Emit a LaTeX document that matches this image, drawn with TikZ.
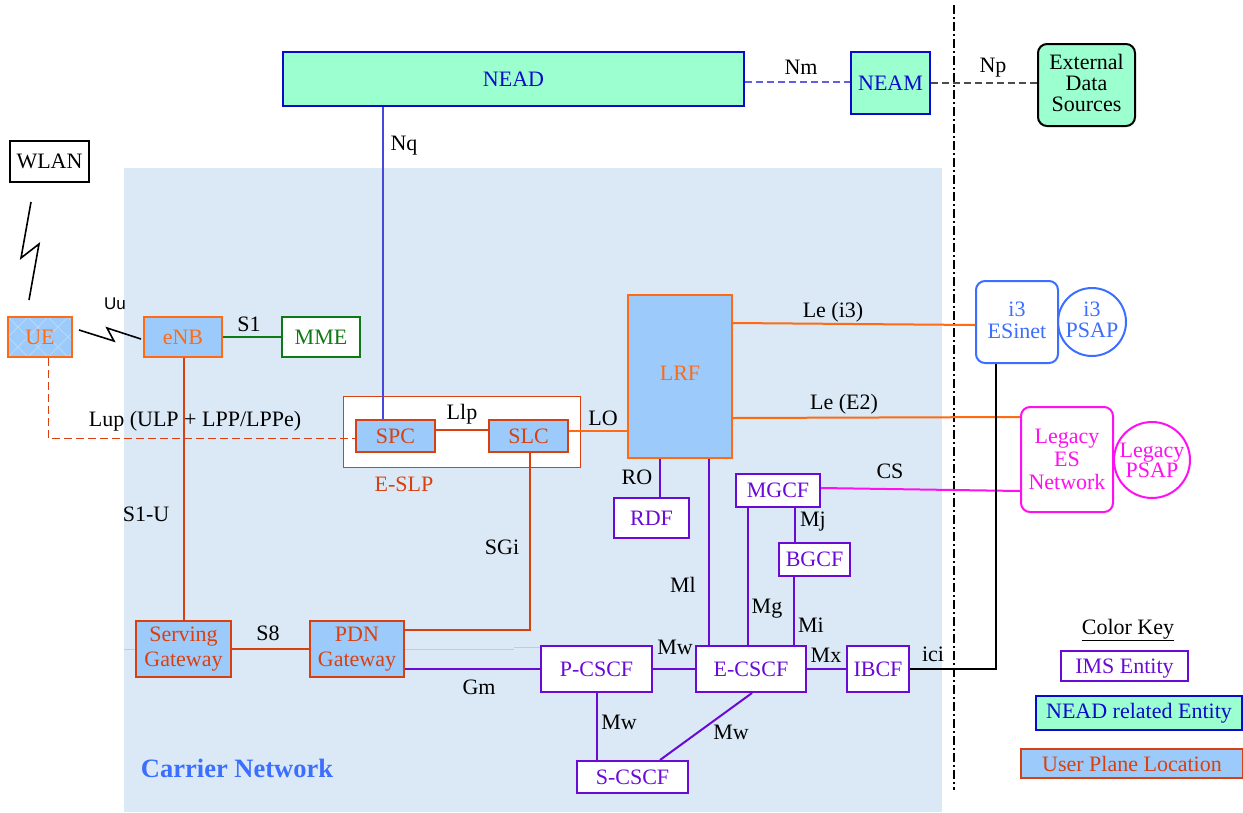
\documentclass[tikz,border=0pt]{standalone}
\usepackage{fontspec}
\setmainfont{Liberation Serif}
\newfontfamily\lsans{Liberation Sans}
\usepackage{tikz}
\definecolor{boxblue}{HTML}{9CCBFB}
\definecolor{aqua}{HTML}{9CFFCF}
\definecolor{orng}{HTML}{FF6A13}
\definecolor{rust}{HTML}{D8400F}
\definecolor{purp}{HTML}{6A0AD6}
\definecolor{grn}{HTML}{0E7A14}
\definecolor{nblue}{HTML}{0A0ACD}
\definecolor{iblue}{HTML}{3C6EFF}
\definecolor{mag}{HTML}{FF10F0}
\definecolor{carrier}{HTML}{DAE9F5}
\newcommand{\drp}[1]{\rule[-#1]{0pt}{#1}}
\tikzset{
  x=1pt,y=-1pt,
  every node/.style={font=\fontsize{22}{22}\selectfont,inner sep=0pt,align=center},
  lbl/.style={text=black,font=\fontsize{22}{22}\selectfont},
  box/.style={draw,line width=2pt,rectangle,anchor=center},
  sz/.style 2 args={minimum width=#1pt,minimum height=#2pt},
  orbox/.style={box,draw=orng,fill=boxblue,text=orng},
  rubox/.style={box,draw=rust,fill=boxblue,text=rust},
  pubox/.style={box,draw=purp,fill=white,text=purp},
  aqbox/.style={box,draw=nblue,fill=aqua,text=nblue},
  stk/.style={font=\fontsize{22}{#1}\selectfont},
  conn/.style={line width=2pt},
  lattice/.style={path picture={
    \foreach \k in {-80,-60,...,120}{
      \draw[white!25!boxblue,line width=1pt]
        ([xshift=\k pt]path picture bounding box.south west) -- ++(60,-60);
      \draw[white!25!boxblue,line width=1pt]
        ([xshift=\k pt]path picture bounding box.north west) -- ++(60,60);
    }}},
}
\begin{document}
\begin{tikzpicture}
\useasboundingbox (0,0) rectangle (1243,812);
\fill[white] (0,0) rectangle (1243,812);
\fill[carrier] (124,168) rectangle (942,812);
\draw[line width=1pt,color=carrier!88!black] (124,649) -- (514,649);
\draw[line width=1pt,color=carrier!88!black] (514,647) -- (541,647);
\draw[line width=1.6pt,dash pattern=on 9pt off 3pt on 2pt off 3pt] (954,5) -- (954,790);

% boxes
\node[box,draw=black,sz={79}{41}] (wlan) at (49.5,161.5) {WLAN};
\node[orbox,sz={64}{40},lattice] (ue) at (40,337) {UE};
\node[orbox,sz={78}{40}] (enb) at (183,337) {eNB};
\node[box,draw=grn,text=grn,fill=white,sz={78}{40}] (mme) at (321,337) {MME};
\node[aqbox,sz={461}{54}] (nead) at (513.5,79) {NEAD};
\node[aqbox,sz={79}{62}] (neam) at (890.5,83) {NEAM};
\node[box,draw=black,fill=aqua,text=black,rounded corners=9pt,stk=21,sz={97}{82}] (ext) at (1086.5,85) {External\\Data\\Sources\drp{4pt}};
\node[box,draw=rust,line width=1pt,fill=white,sz={237}{71}] (eslp) at (461.5,431.5) {};
\node[rubox,sz={79}{32}] (spc) at (395.5,436) {SPC};
\node[rubox,sz={79}{32}] (slc) at (528.5,436) {SLC};
\node[orbox,sz={104}{163}] (lrf) at (680,376.5) {LRF\drp{6pt}};
\node[pubox,sz={75}{40}] (rdf) at (651.5,518) {RDF};
\node[pubox,sz={84}{33}] (mgcf) at (778,490.5) {MGCF};
\node[pubox,sz={71}{33}] (bgcf) at (814.5,559.5) {BGCF};
\node[pubox,sz={111}{46}] (pcscf) at (596.5,669) {P-CSCF};
\node[pubox,sz={110}{46}] (ecscf) at (751,669) {E-CSCF};
\node[pubox,sz={62}{46}] (ibcf) at (878,669) {IBCF};
\node[pubox,sz={111}{32}] (scscf) at (632.5,777) {S-CSCF};
\node[rubox,stk=25,sz={95}{56}] (sgw) at (183.5,649) {Serving\\Gateway};
\node[rubox,stk=25,sz={94}{56}] (pgw) at (357,649) {PDN\\Gateway};
\node[box,draw=iblue,text=iblue,fill=white,rounded corners=9pt,stk=22,sz={82}{82}] (esinet) at (1017,322) {i3\\ESinet\drp{4pt}};
\node[draw=iblue,text=iblue,line width=2pt,circle,stk=21,minimum size=68pt] (ipsap) at (1092,322) {i3\\PSAP\drp{4pt}};
\node[box,draw=mag,text=mag,fill=white,rounded corners=9pt,stk=23,sz={92}{105}] (leses) at (1067,459.5) {Legacy\\ES\\Network};
\node[draw=mag,text=mag,line width=2pt,circle,stk=20,minimum size=76pt] (lpsap) at (1152,460) {Legacy\\PSAP};
\node[pubox,sz={127}{30}] (kims) at (1124.5,666) {IMS Entity\rule{0pt}{19pt}};
\node[aqbox,sz={206}{34}] (knead) at (1139,713) {NEAD related Entity};
\node[rubox,sz={222}{29}] (kup) at (1132,763.5) {User Plane Location};

% connectors
\coordinate (lupc) at (48,438);
\coordinate (gwc) at (530,630);
\coordinate (icic) at (996,669);
\coordinate (w1) at (31,202); \coordinate (w2) at (21,258); \coordinate (w3) at (39,244); \coordinate (w4) at (29,300);
\coordinate (u1) at (79,330); \coordinate (u2) at (114,341); \coordinate (u3) at (107,328); \coordinate (u4) at (141,339);
\draw[line width=1.6pt,line join=miter] (w1) -- (w2) -- (w3) -- (w4);
\draw[line width=1.6pt,line join=miter] (u1) -- (u2) -- (u3) -- (u4);
\draw[conn,color=nblue!75!white,line width=1.5pt] (nead.south -| 383,0) -- (spc.north -| 383,0);
\draw[color=nblue!65!white,dash pattern=on 7pt off 4pt,line width=1.5pt] (nead.east |- 0,82) -- (neam.west |- 0,82);
\draw[color=black!70,dash pattern=on 7pt off 4pt,line width=1.5pt] (neam.east) -- (ext.west |- neam.east);
\draw[conn,color=grn] (enb) -- (mme);
\draw[color=rust,dash pattern=on 8pt off 4pt,line width=1pt] (ue.south -| lupc) -- (lupc) -- (spc.west |- lupc);
\draw[conn,color=rust] (enb.south -| 184,0) -- (sgw.north -| 184,0);
\draw[conn,color=rust] (sgw) -- (pgw);
\draw[conn,color=rust] (pgw.east |- gwc) -- (gwc) -- (slc.south -| gwc);
\draw[conn,color=rust] (spc.east |- 0,430) -- (slc.west |- 0,430);
\draw[conn,color=orng] (slc.east |- 0,431) -- (lrf.west |- 0,431);
\draw[conn,color=orng] (lrf.east |- 0,323) -- (esinet.west |- 0,325);
\draw[conn,color=orng] (lrf.east |- 0,418) -- (leses.west |- 0,417);
\draw[conn,color=mag] (mgcf.east |- 0,488) -- (leses.west |- 0,491);
\draw[conn,color=purp] (lrf.south -| 660,0) -- (rdf.north -| 660,0);
\draw[conn,color=purp] (lrf.south -| 709,0) -- (ecscf.north -| 709,0);
\draw[conn,color=purp] (mgcf.south -| 748,0) -- (ecscf.north -| 748,0);
\draw[conn,color=purp] (mgcf.south -| 795,0) -- (bgcf.north -| 795,0);
\draw[conn,color=purp] (bgcf.south -| 794,0) -- (ecscf.north -| 794,0);
\draw[conn,color=purp] (pgw.east |- 0,669) -- (pcscf.west);
\draw[conn,color=purp] (pcscf) -- (ecscf);
\draw[conn,color=purp] (ecscf) -- (ibcf);
\draw[conn,color=purp] (pcscf.south -| 597,0) -- (scscf.north -| 597,0);
\draw[conn,color=purp] (ecscf.south -| 752,0) -- (scscf.north -| 660,0);
\draw[conn,color=black] (ibcf.east) -- (icic) -- (esinet.south -| icic);

% labels
\node[font=\lsans\fontsize{17}{17}\selectfont] at (115,304) {Uu};
\node[lbl] at (249,324) {S1};
\node[lbl] at (801,67) {Nm};
\node[lbl] at (993,68) {Np};
\node[lbl] at (404,146) {Nq};
\node[lbl] at (833,312) {Le (i3)};
\node[lbl] at (844,404) {Le (E2)};
\node[lbl] at (195,421) {Lup (ULP + LPP/LPPe)};
\node[lbl] at (462,414) {Llp};
\node[lbl] at (603,418) {LO};
\node[lbl] at (637,477) {RO};
\node[lbl] at (890,471) {CS};
\node[lbl] at (813,522) {Mj};
\node[lbl] at (811,625) {Mi};
\node[lbl] at (767,609) {Mg};
\node[lbl] at (683,585) {Ml};
\node[lbl] at (675,647) {Mw};
\node[lbl] at (826,655) {Mx};
\node[lbl] at (933,654) {ici};
\node[lbl] at (479,687) {Gm};
\node[lbl] at (619,722) {Mw};
\node[lbl] at (731,732) {Mw};
\node[lbl] at (268,633) {S8};
\node[lbl] at (502,547) {SGi};
\node[lbl] at (146,514) {S1-U};
\node[lbl,text=rust] at (404,484) {E-SLP};
\node[text=iblue,font=\bfseries\fontsize{26.5}{27}\selectfont] at (237,768) {Carrier Network};
\node[lbl] (ckey) at (1128,630) {\underline{Color Key}};
\end{tikzpicture}
\end{document}
